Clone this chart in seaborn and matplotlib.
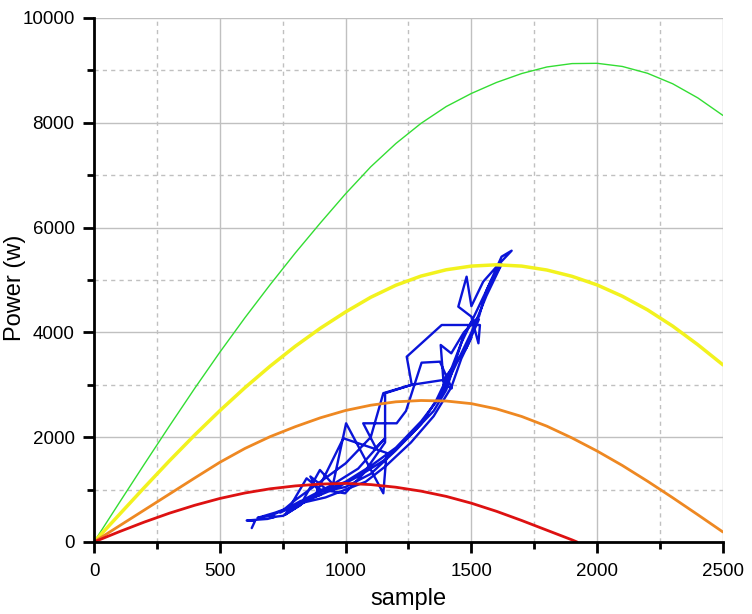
import numpy as np
import pandas as pd
import matplotlib
matplotlib.use("Agg")
import matplotlib.pyplot as plt
from matplotlib.ticker import MultipleLocator
import seaborn as sns

# curvas de potencia (muestra -> potencia)
curve_x = [0, 100, 200, 300, 400, 500, 600, 700, 800, 900, 1000, 1100, 1200,
           1300, 1400, 1500, 1600, 1700, 1800, 1900, 2000, 2100, 2200, 2300,
           2400, 2500]
green_y = [0, 745, 1485, 2215, 2930, 3620, 4280, 4910, 5515, 6090, 6645, 7160,
           7605, 7990, 8310, 8560, 8770, 8940, 9065, 9130, 9135, 9075, 8945,
           8745, 8475, 8140]
yellow_y = [0, 520, 1040, 1550, 2040, 2505, 2945, 3355, 3735, 4080, 4390, 4670,
            4900, 5075, 5195, 5265, 5290, 5265, 5190, 5070, 4905, 4690, 4430,
            4120, 3765, 3380]
orange_y = [0, 305, 610, 915, 1220, 1520, 1785, 2010, 2200, 2370, 2510, 2610,
            2675, 2700, 2690, 2640, 2540, 2395, 2210, 1985, 1735, 1460, 1160,
            845, 520, 190]
red_x = [0, 100, 200, 300, 400, 500, 600, 700, 800, 900, 1000, 1100, 1200,
         1300, 1400, 1500, 1600, 1700, 1800, 1900, 1920]
red_y = [0, 195, 380, 550, 700, 830, 935, 1015, 1070, 1105, 1118, 1095, 1045,
         970, 870, 740, 585, 410, 225, 40, 0]

# trayectoria medida (azul)
blue_x = [627, 640, 607, 690, 720, 700, 752, 820, 898, 950, 1002, 1150,
          1163, 1110, 991, 880, 760, 845, 900, 998, 1070, 1157, 1157, 1263,
          1243, 1382, 1534, 1528, 1500, 1448, 1481, 1500, 1547, 1600, 1660,
          1620, 1560, 1530, 1470, 1420, 1378, 1390, 1422, 1375, 1302, 1240,
          1203, 1163, 1070, 1120, 1157, 1050, 950, 850, 780, 850, 950, 1050,
          1150, 1250, 1350, 1400, 1430, 1470, 1500, 1530, 1480, 1420, 1389,
          1263, 1150, 1100, 1000, 900, 800, 740, 800, 900, 1000, 1100, 1200,
          1300, 1380, 1440, 1500, 1560, 1620, 1580, 1520, 1460, 1420, 1360,
          1300, 1200, 1100, 1000, 930, 860, 900, 820, 760, 700, 650, 720, 830,
          920, 1000, 1080, 1160, 1260, 1350, 1420, 1460, 1500]
blue_y = [265, 400, 410, 440, 480, 470, 500, 700, 1374, 1100, 2265, 929,
          1700, 1788, 1979, 900, 520, 1215, 1000, 929, 1300, 1900, 2838, 3000,
          3536, 4141, 4141, 3792, 4300, 4491, 5063, 4500, 4968, 5254, 5559,
          5445, 4800, 4300, 4000, 3600, 3760, 3000, 2933, 3441, 3422, 2500,
          2265, 2265, 2265, 1800, 1979, 1400, 1100, 850, 600, 800, 1000, 1250,
          1550, 2000, 2500, 2900, 3350, 3950, 4200, 4250, 3700, 3300, 3092,
          3000, 2840, 2000, 1500, 1150, 800, 560, 700, 950, 1150, 1450, 1800,
          2300, 2800, 3400, 4000, 4700, 5300, 5000, 4400, 3800, 3300, 2700,
          2250, 1750, 1300, 1050, 980, 1250, 900, 780, 620, 500, 460, 560, 750,
          850, 1000, 1150, 1450, 1900, 2400, 2950, 3500, 3900]

sns.set_theme(style="white")
plt.rcParams['font.family'] = ['Liberation Sans', 'DejaVu Sans']

fig = plt.figure(figsize=(7.52, 6.14), dpi=100)
ax = fig.add_axes([0.125, 0.1173, 0.8364, 0.8534])

df_curves = pd.DataFrame({"sample": curve_x, "green": green_y,
                          "yellow": yellow_y, "orange": orange_y})
df_red = pd.DataFrame({"sample": red_x, "red": red_y})
df_blue = pd.DataFrame({"sample": blue_x, "power": blue_y})

# la traza azul va debajo de las curvas
sns.lineplot(data=df_blue, x="sample", y="power", color="#0a14d8", lw=1.7,
             sort=False, estimator=None, ax=ax)
sns.lineplot(data=df_curves, x="sample", y="green", color="#33dd33", lw=1, ax=ax)
sns.lineplot(data=df_curves, x="sample", y="yellow", color="#f2f21e", lw=2.5, ax=ax)
sns.lineplot(data=df_curves, x="sample", y="orange", color="#ee8822", lw=2, ax=ax)
sns.lineplot(data=df_red, x="sample", y="red", color="#dd1111", lw=2, ax=ax)

ax.set_xlim(0, 2500)
ax.set_ylim(0, 10000)
ax.xaxis.set_major_locator(MultipleLocator(500))
ax.xaxis.set_minor_locator(MultipleLocator(250))
ax.yaxis.set_major_locator(MultipleLocator(2000))
ax.yaxis.set_minor_locator(MultipleLocator(1000))
ax.grid(which="major", color="#c0c0c0", lw=1, ls="-")
ax.grid(which="minor", color="#c0c0c0", lw=1, ls=(0, (3, 3)))
ax.set_axisbelow(True)

for side in ["top", "right"]:
    ax.spines[side].set_visible(False)
for side in ["left", "bottom"]:
    ax.spines[side].set_color("black")
    ax.spines[side].set_linewidth(2)

ax.tick_params(which="major", direction="out", length=8, width=2,
               color="black", labelsize=13.5, labelcolor="black",
               left=True, bottom=True)
ax.tick_params(axis="x", which="major", pad=7)
ax.tick_params(axis="y", which="major", pad=6)
ax.tick_params(which="minor", direction="out", length=5, width=2,
               color="black", left=True, bottom=True)

ax.set_xlabel("sample", fontsize=17, color="black", labelpad=6)
ax.set_ylabel("Power (w)", fontsize=17, color="black")
ax.yaxis.set_label_coords(-0.108, 0.485)

fig.savefig("out.png", dpi=100)
